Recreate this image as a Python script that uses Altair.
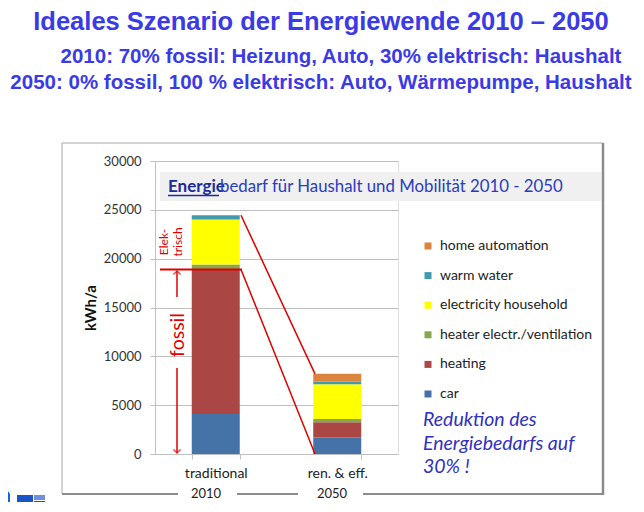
import altair as alt
import pandas as pd

# ---------------- data ----------------
categories = ["traditional", "ren. & eff."]
years = ["2010", "2050"]
components = ["car", "heating", "heater electr./ventilation",
              "electricity household", "warm water", "home automation"]
colors = ["#4572A7", "#AA4643", "#89A54E", "#FFFF00", "#4198AF", "#DB843D"]
traditional = [4100, 14800, 500, 4600, 450, 0]
ren_eff = [1700, 1550, 330, 3570, 280, 780]
y_ticks = [0, 5000, 10000, 15000, 20000, 25000, 30000]

title_lines = [
    "Ideales Szenario der Energiewende 2010 \u2013 2050",
    "2010: 70% fossil: Heizung, Auto, 30% elektrisch: Haushalt",
    "2050: 0% fossil, 100 % elektrisch: Auto, W\u00e4rmepumpe, Haushalt",
]
chart_title_bold = "Energie"
chart_title_rest = "bedarf f\u00fcr Haushalt und Mobilit\u00e4t 2010 - 2050"
reduktion_lines = ["Reduktion des", "Energiebedarfs auf", "30% !"]

rows = []
for cat, vals in zip(categories, [traditional, ren_eff]):
    for i, (comp, v) in enumerate(zip(components, vals)):
        rows.append({"category": cat, "component": comp, "value": v, "order": i})
df = pd.DataFrame(rows)

trad_total = sum(traditional)
fossil_total = traditional[0] + traditional[1]
ren_total = sum(ren_eff)

# ---------------- layout helpers (page px -> plot px) ----------------
PLOT_LEFT, PLOT_TOP = 155, 161
W, H = 243, 293


def px(x):
    return x - PLOT_LEFT


def py(y):
    return y - PLOT_TOP


RED = "#e00000"
FRAME_LIGHT = "#c4c4c4"
FRAME_DARK = "#8c8c8c"
GRID = "#c0c0c0"
TITLE_BLUE = "#3a3ae6"

one = pd.DataFrame({"a": [0]})


def text(t, x, y, **kw):
    return alt.Chart(one).mark_text(text=t, **kw).encode(
        x=alt.value(px(x)), y=alt.value(py(y)))


def seg(x1, y1, x2, y2, **kw):
    return alt.Chart(one).mark_rule(**kw).encode(
        x=alt.value(px(x1)), x2=alt.value(px(x2)),
        y=alt.value(py(y1)), y2=alt.value(py(y2)))


def box(x1, y1, x2, y2, **kw):
    return alt.Chart(one).mark_rect(**kw).encode(
        x=alt.value(px(x1)), x2=alt.value(px(x2)),
        y=alt.value(py(y1)), y2=alt.value(py(y2)))


# ---------------- frame & title box ----------------
frame = [
    seg(62, 143, 603, 143, color=FRAME_LIGHT, strokeWidth=1.5),
    seg(62, 143, 62, 494, color=FRAME_LIGHT, strokeWidth=1.5),
    seg(603, 143, 603, 495, color=FRAME_DARK, strokeWidth=2.5),
    seg(62, 494, 178, 494, color=FRAME_DARK, strokeWidth=2),
    seg(237, 494, 298, 494, color=FRAME_DARK, strokeWidth=2),
    seg(363, 494, 604, 494, color=FRAME_DARK, strokeWidth=2),
]

# small logo fragment in the bottom-left corner
logo = [
    box(0, 491, 10, 512, color="#1a63d6", cornerRadiusTopRight=4),
    box(0, 496, 6, 512, color="white"),
    box(17, 495, 33, 507, color="#1a55c8"),
    box(34, 495, 45, 500, color="#6f8fe0"),
    box(34, 501, 45, 507, color="#1a55c8"),
    box(17, 508, 45, 512, color="#33dd22"),
]

title_box = box(160, 172, 601, 201, color="#f0f0f0")

chart_title = [
    text(chart_title_bold, 168, 192, font="Lato", fontSize=17, fontWeight="bold",
         color="#1c2c9c", align="left", baseline="alphabetic"),
    seg(168, 195.5, 219, 195.5, color="#1c2c9c", strokeWidth=1.5),
    text(chart_title_rest, 220, 192, font="Lato", fontSize=16.8,
         color="#2a3cc0", align="left", baseline="alphabetic"),
]

# ---------------- bars ----------------
bars = alt.Chart(df).mark_bar().encode(
    x=alt.X("category:N", sort=categories, title=None,
            scale=alt.Scale(paddingInner=0.605, paddingOuter=0.3025),
            axis=alt.Axis(labelAngle=0, labelFont="Lato", labelFontSize=14,
                          labelColor="#222222", tickBand="extent", tickSize=5,
                          labelPadding=7, domainColor=GRID, tickColor=GRID,
                          grid=False)),
    y=alt.Y("value:Q", stack="zero", title="kWh/a",
            scale=alt.Scale(domain=[0, 30000], nice=False),
            axis=alt.Axis(values=y_ticks, format="d", labelFont="Lato", labelFontSize=13,
                          labelColor="#333333", labelPadding=9, tickSize=5,
                          tickColor=GRID, domainColor=GRID, gridColor=GRID,
                          titleFont="Lato", titleFontSize=15, titleFontWeight="bold",
                          titleColor="#111111", titleAngle=270, titleAlign="center",
                          titleBaseline="middle", titleX=px(90), titleY=H / 2)),
    color=alt.Color("component:N",
                    scale=alt.Scale(domain=components[::-1], range=colors[::-1]),
                    legend=alt.Legend(title=None, orient="none",
                                      legendX=px(421), legendY=py(239),
                                      symbolType="square", symbolSize=49,
                                      symbolStrokeWidth=0, labelFont="Lato",
                                      labelFontSize=14, labelColor="#222222",
                                      rowPadding=15.6, labelOffset=5, padding=0)),
    order=alt.Order("order:Q", sort="ascending"),
)

# ---------------- red annotations ----------------
diag = pd.DataFrame({"value": [trad_total, fossil_total], "value2": [ren_total, 0]})
diag_lines = alt.Chart(diag).mark_rule(color=RED, strokeWidth=1.5).encode(
    x=alt.value(px(241)), x2=alt.value(px(315)),
    y=alt.Y("value:Q", title="kWh/a"), y2="value2:Q")

fossil_line = alt.Chart(pd.DataFrame({"value": [fossil_total]})).mark_rule(
    color=RED, strokeWidth=2).encode(
    x=alt.value(px(160)), x2=alt.value(px(242)), y=alt.Y("value:Q", title="kWh/a"))

arrows = [
    seg(177, 271, 177, 297, color=RED, strokeWidth=1.5),
    seg(177, 368, 177, 453, color=RED, strokeWidth=1.5),
    alt.Chart(one).mark_point(shape="M-1,1L0,0L1,1", filled=False, size=50,
                              strokeWidth=1.5, color=RED).encode(
        x=alt.value(px(177)), y=alt.value(py(271))),
    alt.Chart(one).mark_point(shape="M-1,-1L0,0L1,-1", filled=False, size=50,
                              strokeWidth=1.5, color=RED).encode(
        x=alt.value(px(177)), y=alt.value(py(453))),
    text("fossil", 178, 335, font="Lato", fontSize=19.5, color=RED, angle=270,
         align="center", baseline="middle"),
    text("Elek-", 164, 242, font="Lato", fontSize=12, color=RED, angle=270,
         align="center", baseline="middle"),
    text("trisch", 178, 242, font="Lato", fontSize=12, color=RED, angle=270,
         align="center", baseline="middle"),
]

# ---------------- other texts ----------------
texts = [
    text(title_lines[0], 321, 22, font="Liberation Sans", fontSize=25.5,
         fontWeight="bold", color=TITLE_BLUE, align="center", baseline="middle"),
    text(title_lines[1], 341, 57, font="Liberation Sans", fontSize=20.5,
         fontWeight="bold", color=TITLE_BLUE, align="center", baseline="middle"),
    text(title_lines[2], 321, 83, font="Liberation Sans", fontSize=20.5,
         fontWeight="bold", color=TITLE_BLUE, align="center", baseline="middle"),
    text(years[0], 206, 494, font="Lato", fontSize=13, color="#222222",
         align="center", baseline="middle"),
    text(years[1], 332, 494, font="Lato", fontSize=13, color="#222222",
         align="center", baseline="middle"),
    text("\n".join(reduktion_lines), 423, 420, font="Lato", fontSize=19.5,
         fontStyle="italic", color="#3030c0", align="left", baseline="middle",
         lineBreak="\n", lineHeight=23.5),
]

chart = alt.layer(
    *frame, *logo, title_box, *chart_title, bars, diag_lines, fossil_line,
    *arrows, *texts
).properties(
    width=W, height=H,
    padding={"left": PLOT_LEFT - 8, "top": PLOT_TOP - 8,
             "right": 628 - (PLOT_LEFT - 8) - W, "bottom": 494 - (PLOT_TOP - 8) - H},
    autosize=alt.AutoSizeParams(type="none"),
).configure_view(strokeWidth=0).configure(background="white")

chart.save("out.html", embed_options={"renderer": "svg", "actions": False})
